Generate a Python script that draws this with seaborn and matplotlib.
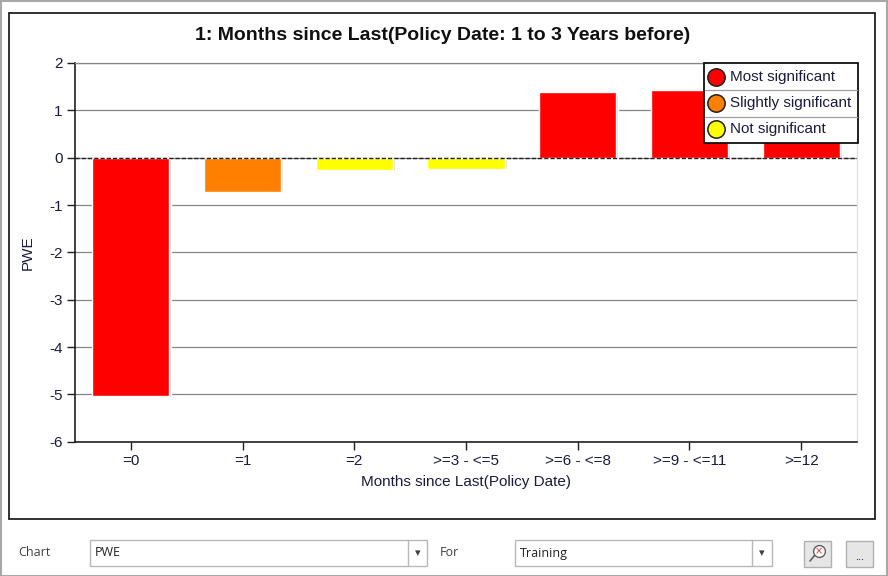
import matplotlib
matplotlib.use("Agg")
import matplotlib.pyplot as plt
import seaborn as sns
import pandas as pd
from matplotlib.patches import Rectangle, Circle
from matplotlib.lines import Line2D

# ---- data ----
categories = ["=0", "=1", "=2", ">=3 - <=5", ">=6 - <=8", ">=9 - <=11", ">=12"]
pwe_values = [-5.03, -0.72, -0.25, -0.24, 1.38, 1.42, 0.95]
significance = ["Most significant", "Slightly significant", "Not significant",
                "Not significant", "Most significant", "Most significant",
                "Most significant"]
legend_labels = ["Most significant", "Slightly significant", "Not significant"]
legend_colors = ["#ff0000", "#ff8000", "#ffff00"]
y_ticks = [2, 1, 0, -1, -2, -3, -4, -5, -6]

title = "1: Months since Last(Policy Date: 1 to 3 Years before)"
x_label = "Months since Last(Policy Date)"
y_label = "PWE"

sns.set_theme(style="white")
plt.rcParams["font.family"] = ["Liberation Sans", "DejaVu Sans"]
plt.rcParams["axes.unicode_minus"] = False

W, H = 888, 576
fig = plt.figure(figsize=(W / 100, H / 100), dpi=100)
fig.patch.set_facecolor("white")


def fx(x):
    return x / W


def fy(y):
    return 1 - y / H


def rect(x0, y0, x1, y1, **kw):
    r = Rectangle((fx(x0), fy(y1)), fx(x1) - fx(x0), fy(y0) - fy(y1),
                  transform=fig.transFigure, **kw)
    fig.add_artist(r)
    return r


def hline(x0, x1, y, **kw):
    fig.add_artist(Line2D([fx(x0), fx(x1)], [fy(y), fy(y)],
                          transform=fig.transFigure, **kw))


def vline(x, y0, y1, **kw):
    fig.add_artist(Line2D([fx(x), fx(x)], [fy(y0), fy(y1)],
                          transform=fig.transFigure, **kw))


def dot(x, y, size, **kw):
    fig.add_artist(Line2D([fx(x)], [fy(y)], transform=fig.transFigure,
                          marker="o", linestyle="none", markersize=size, **kw))


# outer window border and chart panel
rect(0.5, 0.5, 887, 575.5, fill=False, edgecolor="#a8a8a8", lw=1.5)
rect(9, 13, 875, 519, fill=False, edgecolor="#202020", lw=1.3)

# plot axes
L, T, R, B = 75, 63, 857, 441.7
ax = fig.add_axes([fx(L), fy(B), fx(R) - fx(L), fy(T) - fy(B)])

df = pd.DataFrame({"cat": categories, "val": pwe_values, "sig": significance})
palette = dict(zip(legend_labels, legend_colors))

# subtle bar shadow
ax.bar([i + 0.018 for i in range(len(categories))], pwe_values, width=0.69,
       bottom=[-0.03] * len(categories), color="#dcdcdc", zorder=2)
sns.barplot(data=df, x="cat", y="val", hue="sig", palette=palette,
            dodge=False, width=0.69, legend=False, ax=ax, zorder=3,
            saturation=1, order=categories)

ax.set_ylim(-6, 2)
ax.set_xlim(-0.5, len(categories) - 0.5)
ax.set_yticks(y_ticks)
ax.yaxis.grid(True, color="#858585", lw=0.9, zorder=0)
ax.set_axisbelow(True)
ax.axhline(0, color="#202020", lw=1.0, ls=(0, (3, 1.5)), zorder=5)

for s in ["left", "bottom"]:
    ax.spines[s].set_color("#202020")
    ax.spines[s].set_linewidth(1.2)
ax.spines["top"].set_color("#858585")
ax.spines["top"].set_linewidth(0.9)
ax.spines["right"].set_color("#e0e0e0")
ax.spines["right"].set_linewidth(0.9)

ax.tick_params(axis="both", direction="out", length=6, width=1,
               color="#202020", labelsize=11, labelcolor="#1a1a40", pad=3,
               left=True, bottom=True)
ax.set_xlabel(x_label, fontsize=11, color="#1a1a40", labelpad=5)
ax.set_ylabel(y_label, fontsize=11, color="#1a1a40", labelpad=10)

# title centred on the chart panel
fig.text(fx(443), fy(40), title, fontsize=14, fontweight="bold",
         color="#101010", ha="center", va="baseline")

# legend (drawn as a table-like box)
lx0, ly0, lx1, ly1 = 704, 63, 858, 143
rect(lx0, ly0, lx1, ly1, facecolor="white", edgecolor="#101010", lw=1.3,
     zorder=20)
for yy in (90, 116.7):
    hline(lx0 + 1, lx1 - 1, yy, color="#a0a0a0", lw=0.9, zorder=21)
for i, (lab, col) in enumerate(zip(legend_labels, legend_colors)):
    cy = 76.7 + i * 26.3
    dot(716, cy, 12.5, markerfacecolor=col, markeredgecolor="#202020",
        markeredgewidth=1.1, zorder=22)
    fig.text(fx(729.5), fy(cy), lab, fontsize=11, color="#1a1a40",
             va="center", ha="left", zorder=23)

# bottom UI controls
ui_font = ["Open Sans", "DejaVu Sans"]
fig.text(fx(18), fy(553), "Chart", fontsize=9, color="#404040",
         va="center", ha="left", family=ui_font)
rect(90, 540, 427, 566, facecolor="white", edgecolor="#b8b8b8", lw=1)
vline(408, 540, 566, color="#b8b8b8", lw=1)
fig.text(fx(95), fy(553), "PWE", fontsize=9, color="#202020",
         va="center", ha="left", family=ui_font)
fig.text(fx(417.5), fy(553), "▾", fontsize=8, color="#404040",
         va="center", ha="center", family=["DejaVu Sans"])

fig.text(fx(440), fy(553), "For", fontsize=9, color="#404040",
         va="center", ha="left", family=ui_font)
rect(515, 540, 772, 566, facecolor="white", edgecolor="#b8b8b8", lw=1)
vline(752, 540, 566, color="#b8b8b8", lw=1)
fig.text(fx(520), fy(553), "Training", fontsize=9, color="#202020",
         va="center", ha="left", family=ui_font)
fig.text(fx(762), fy(553), "▾", fontsize=8, color="#404040",
         va="center", ha="center", family=["DejaVu Sans"])

rect(804, 541, 831, 567, facecolor="#e6e6e6", edgecolor="#b0b0b0", lw=1)
dot(818.5, 551, 8.5, markerfacecolor="white", markeredgecolor="#606060",
    markeredgewidth=1)
fig.add_artist(Line2D([fx(814.5), fx(810)], [fy(555.5), fy(561)],
                      transform=fig.transFigure, color="#606060", lw=1.2))
fig.text(fx(818.5), fy(551), "×", fontsize=7, color="#e03030",
         va="center", ha="center", family=["DejaVu Sans"])
rect(846, 541, 873, 567, facecolor="#e6e6e6", edgecolor="#b0b0b0", lw=1)
fig.text(fx(859.5), fy(558), "...", fontsize=8, color="#303060",
         va="center", ha="center", family=ui_font)

fig.savefig("out.png", dpi=100, facecolor="white")
